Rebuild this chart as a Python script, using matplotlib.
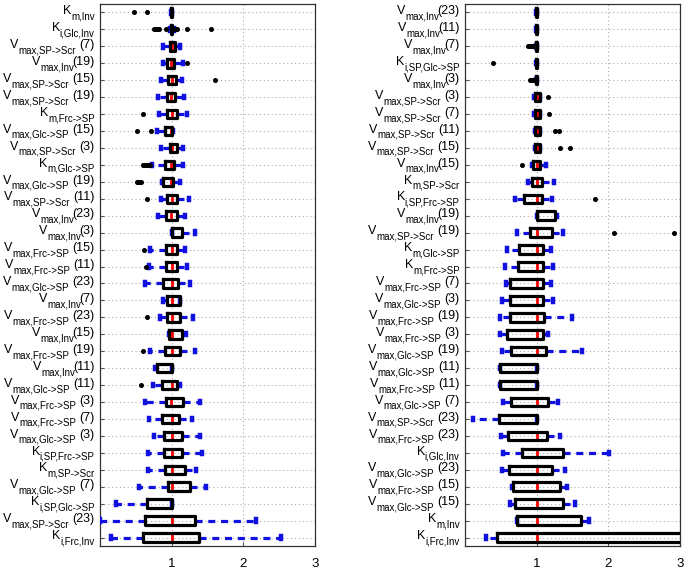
import matplotlib
matplotlib.use('Agg')
import matplotlib.pyplot as plt
from matplotlib.transforms import ScaledTranslation

plt.rcParams['font.family'] = 'Liberation Sans'

# ---- left panel data (rows top to bottom) ----
left_sym = ['K', 'K', 'V', 'V', 'V', 'V', 'K', 'V', 'V', 'K', 'V', 'V', 'V', 'V', 'V', 'V',
            'V', 'V', 'V', 'V', 'V', 'V', 'V', 'V', 'V', 'V', 'K', 'K', 'V', 'K', 'V', 'K']
left_sub = ['m,Inv', 'i,Glc,Inv', 'max,SP->Scr', 'max,Inv', 'max,SP->Scr', 'max,SP->Scr',
            'm,Frc->SP', 'max,Glc->SP', 'max,SP->Scr', 'm,Glc->SP', 'max,Glc->SP', 'max,SP->Scr',
            'max,Inv', 'max,Inv', 'max,Frc->SP', 'max,Frc->SP', 'max,Glc->SP', 'max,Inv',
            'max,Frc->SP', 'max,Inv', 'max,Frc->SP', 'max,Inv', 'max,Glc->SP', 'max,Frc->SP',
            'max,Frc->SP', 'max,Glc->SP', 'i,SP,Frc->SP', 'm,SP->Scr', 'max,Glc->SP',
            'i,SP,Glc->SP', 'max,SP->Scr', 'i,Frc,Inv']
left_num = ['', '', '7', '19', '15', '19', '', '15', '3', '', '19', '11', '23', '3', '15', '11',
            '23', '7', '23', '15', '19', '11', '11', '3', '7', '3', '', '', '7', '', '23', '']
left_q1 = [0.985, 0.99, 0.97, 0.93, 0.95, 0.93, 0.94, 0.90, 0.97, 0.91, 0.885, 0.94, 0.92, 1.0,
           0.92, 0.92, 0.885, 0.93, 0.93, 0.965, 0.91, 0.80, 0.87, 0.92, 0.866, 0.894, 0.894,
           0.91, 0.955, 0.656, 0.63, 0.596]
left_med = [1.0, 1.0, 1.0, 0.99, 1.0, 0.99, 1.0, 0.99, 1.0, 0.99, 0.99, 1.0, 0.99, 1.0, 1.0, 1.0,
            1.0, 1.0, 1.0, 1.0, 1.0, 1.0, 1.0, 0.99, 1.0, 1.0, 1.0, 1.0, 1.0, 1.0, 1.0, 1.0]
left_q3 = [1.01, 1.01, 1.05, 1.03, 1.06, 1.05, 1.07, 1.01, 1.08, 1.03, 1.025, 1.08, 1.07, 1.14,
           1.07, 1.07, 1.09, 1.12, 1.12, 1.145, 1.11, 1.0, 1.07, 1.155, 1.10, 1.145, 1.14, 1.19,
           1.26, 1.0, 1.33, 1.38]
left_lo = [0.985, 0.97, 0.88, 0.885, 0.85, 0.815, 0.82, 0.80, 0.85, 0.72, 0.86, 0.85, 0.815, 1.0,
           0.70, 0.69, 0.63, 0.875, 0.84, 0.965, 0.70, 0.77, 0.735, 0.63, 0.69, 0.76, 0.666,
           0.666, 0.55, 0.22, 0.0, 0.155]
left_hi = [1.01, 1.03, 1.11, 1.16, 1.145, 1.17, 1.22, 1.02, 1.16, 1.155, 1.12, 1.24, 1.18, 1.32,
           1.19, 1.21, 1.25, 1.12, 1.30, 1.20, 1.32, 1.0, 1.12, 1.39, 1.29, 1.40, 1.43, 1.34,
           1.475, 1.0, 2.18, 2.53]
left_out = [[0.475, 0.66], [0.76, 0.78, 0.80, 0.82, 0.92, 1.04, 1.06, 1.08, 1.21, 1.55], [],
            [1.21], [1.61], [], [0.605], [0.52, 0.71], [], [0.60, 0.62, 0.64, 0.66, 0.68, 0.70],
            [0.51, 0.53, 0.55, 0.57], [0.66], [], [], [0.62], [0.64], [], [], [0.66], [],
            [0.605], [], [0.577], [], [], [], [], [], [], [], [], []]

# ---- right panel data (rows top to bottom) ----
right_sym = ['V', 'V', 'V', 'K', 'V', 'V', 'V', 'V', 'V', 'V', 'K', 'K', 'V', 'V', 'K', 'K',
             'V', 'V', 'V', 'V', 'V', 'V', 'V', 'V', 'V', 'V', 'K', 'V', 'V', 'V', 'K', 'K']
right_sub = ['max,Inv', 'max,Inv', 'max,Inv', 'i,SP,Glc->SP', 'max,Inv', 'max,SP->Scr',
             'max,SP->Scr', 'max,SP->Scr', 'max,SP->Scr', 'max,Inv', 'm,SP->Scr', 'i,SP,Frc->SP',
             'max,Inv', 'max,SP->Scr', 'm,Glc->SP', 'm,Frc->SP', 'max,Frc->SP', 'max,Glc->SP',
             'max,Frc->SP', 'max,Frc->SP', 'max,Glc->SP', 'max,Glc->SP', 'max,Frc->SP',
             'max,Glc->SP', 'max,SP->Scr', 'max,Frc->SP', 'i,Glc,Inv', 'max,Glc->SP',
             'max,Frc->SP', 'max,Glc->SP', 'm,Inv', 'i,Frc,Inv']
right_num = ['23', '11', '7', '', '3', '3', '7', '11', '15', '15', '', '', '19', '19', '', '',
             '7', '3', '19', '3', '19', '11', '11', '7', '23', '23', '', '23', '15', '15', '', '']
right_q1 = [0.99, 0.99, 0.99, 0.99, 0.99, 0.975, 0.975, 0.98, 0.98, 0.955, 0.94, 0.83, 1.0, 0.91,
            0.76, 0.745, 0.63, 0.63, 0.63, 0.58, 0.64, 0.49, 0.49, 0.64, 0.48, 0.595, 0.79,
            0.61, 0.665, 0.70, 0.72, 0.44]
right_med = [1.0] * 32
right_q3 = [1.005, 1.005, 1.005, 1.005, 1.005, 1.04, 1.04, 1.04, 1.04, 1.04, 1.07, 1.08, 1.26,
            1.22, 1.085, 1.095, 1.095, 1.095, 1.10, 1.085, 1.13, 1.0, 1.0, 1.165, 1.0, 1.14,
            1.365, 1.22, 1.32, 1.37, 1.615, 3.6]
right_lo = [0.99, 0.99, 0.99, 0.99, 0.99, 0.965, 0.965, 0.975, 0.97, 0.93, 0.885, 0.70, 1.0,
            0.72, 0.58, 0.56, 0.57, 0.51, 0.49, 0.49, 0.51, 0.49, 0.49, 0.535, 0.115, 0.50,
            0.525, 0.51, 0.65, 0.63, 0.72, 0.29]
right_hi = [1.005, 1.005, 1.005, 1.005, 1.005, 1.05, 1.05, 1.05, 1.05, 1.13, 1.24, 1.21, 1.28,
            1.365, 1.20, 1.225, 1.20, 1.225, 1.49, 1.165, 1.63, 1.0, 1.0, 1.30, 1.0, 1.32,
            2.015, 1.39, 1.42, 1.53, 1.735, 5.0]
right_out = [[], [], [0.885, 0.90, 0.915, 0.93, 0.945, 0.955], [0.395],
             [0.905, 0.92, 0.935, 0.95, 0.96], [1.165], [1.17], [1.255, 1.31], [1.33, 1.46],
             [0.80], [], [1.815], [], [2.085, 2.91], [], [], [], [], [], [], [], [], [], [],
             [], [], [], [], [], [], [], []]


def put_labels(ax, syms, subs, nums):
    # MATLAB-style labels: big letter, dropped subscript, then run number
    fig = ax.figure
    r = fig.canvas.get_renderer()
    base = ax.get_yaxis_transform()
    for i in range(len(syms)):
        pieces = [(syms[i], 9, -1.2, 0)]
        if nums[i]:
            gap = 2.5 if '->' in subs[i] else -1.5
            pieces.append((subs[i], 7, -5.0, 0))
            pieces.append(('(' + nums[i] + ')', 9, -1.2, gap))
        else:
            pieces.append((subs[i], 7, -5.0, 0))
        x = -3.8
        for txt, size, dy, gap in reversed(pieces):
            t = ax.text(0, i + 1, txt, fontsize=size, ha='right', va='baseline', clip_on=False,
                        transform=base + ScaledTranslation(x / 72, dy / 72, fig.dpi_scale_trans))
            x -= t.get_window_extent(r).width * 72 / fig.dpi + gap


def draw_panel(ax, syms, subs, nums, q1, med, q3, lo, hi, out):
    stats = []
    for i in range(len(syms)):
        stats.append(dict(q1=q1[i], med=med[i], q3=q3[i], whislo=lo[i], whishi=hi[i],
                          fliers=out[i]))
    pos = list(range(1, len(syms) + 1))
    ax.bxp(stats, positions=pos, widths=0.5, capwidths=0.14, orientation='horizontal',
           boxprops=dict(color='black', linewidth=2.3, solid_joinstyle='round', zorder=4),
           medianprops=dict(color='red', linewidth=2.0, zorder=3),
           whiskerprops=dict(color='#1010e0', linewidth=2.3, linestyle=(0, (2.2, 1.8)), zorder=3),
           capprops=dict(color='#1010e0', linewidth=3.2, zorder=3),
           flierprops=dict(marker='o', markersize=2.6, markerfacecolor='black',
                           markeredgecolor='black', zorder=3))
    ax.set_xlim(0, 3)
    ax.set_ylim(len(syms) + 0.5, 0.5)
    ax.set_xticks([1, 2, 3])
    ax.set_xticklabels(['1', '2', '3'], fontsize=9.5)
    ax.set_yticks(pos)
    ax.set_yticklabels([''] * len(pos))
    ax.tick_params(axis='x', direction='in', length=3, pad=8.5, color='#555555')
    ax.tick_params(axis='y', direction='in', length=3, color='#555555')
    ax.grid(True, linestyle=(0, (1, 2.5)), color='#aaaaaa', linewidth=0.8)
    ax.set_axisbelow(True)
    for sp in ax.spines.values():
        sp.set_color('#333333')
        sp.set_linewidth(0.9)
    put_labels(ax, syms, subs, nums)


fig = plt.figure(figsize=(6.85, 5.71), dpi=100)
ax1 = fig.add_axes([100 / 685, 25 / 571, 215 / 685, 542 / 571])
ax2 = fig.add_axes([465 / 685, 25 / 571, 215 / 685, 542 / 571])
draw_panel(ax1, left_sym, left_sub, left_num, left_q1, left_med, left_q3, left_lo, left_hi,
           left_out)
draw_panel(ax2, right_sym, right_sub, right_num, right_q1, right_med, right_q3, right_lo,
           right_hi, right_out)
fig.savefig('out.png', dpi=100)
